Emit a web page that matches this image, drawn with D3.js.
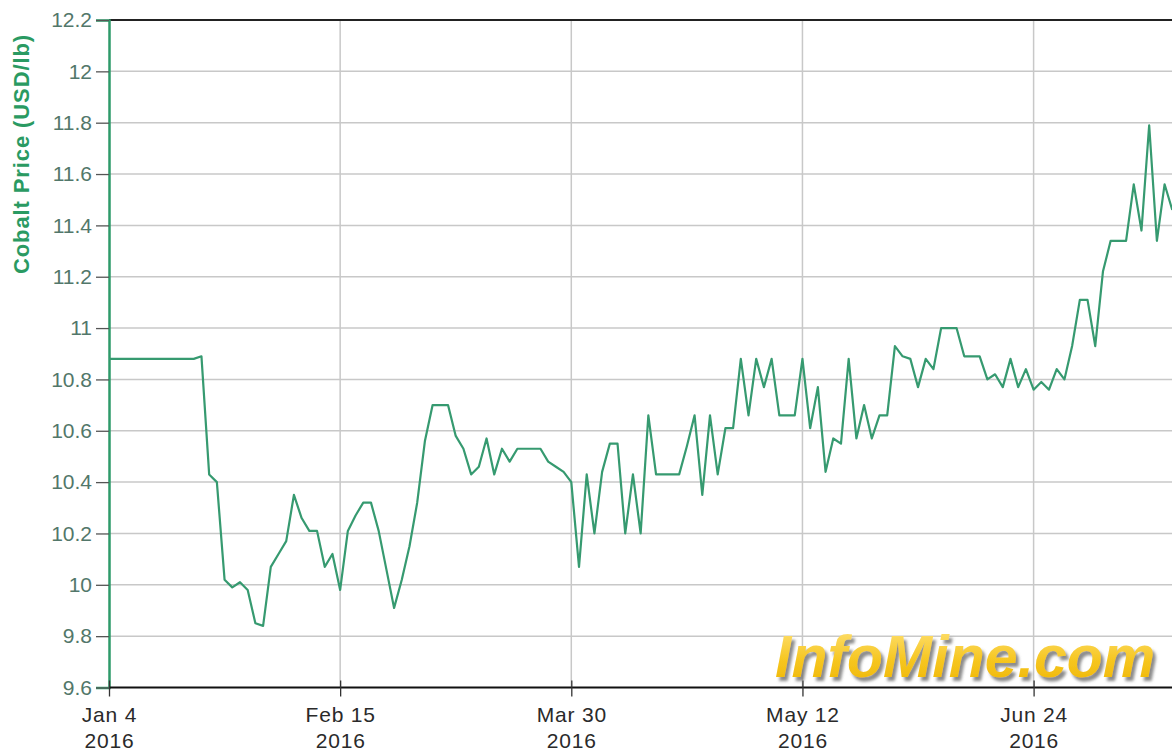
<!DOCTYPE html>
<html lang="en">
<head>
<meta charset="utf-8">
<title>Cobalt Price</title>
<script src="https://d3js.org/d3.v7.min.js"></script>
<style>
body { margin: 0; background: #fff; }
svg { display: block; font-family: "Liberation Sans", Arial, sans-serif; }
.grid line { stroke: #c8c8c8; stroke-width: 1.5; }
</style>
</head>
<body>
<div id="chart"></div>
<script>
// cobalt price (USD/lb), one value per trading day from Jan 4 2016
var prices = [
  10.88, 10.88, 10.88, 10.88, 10.88, 10.88, 10.88, 10.88, 10.88, 10.88,
  10.88, 10.88, 10.89, 10.43, 10.40, 10.02, 9.99, 10.01, 9.98, 9.85,
  9.84, 10.07, 10.12, 10.17, 10.35, 10.26, 10.21, 10.21, 10.07, 10.12,
  9.98, 10.21, 10.27, 10.32, 10.32, 10.21, 10.06, 9.91, 10.02, 10.15,
  10.32, 10.56, 10.70, 10.70, 10.70, 10.58, 10.53, 10.43, 10.46, 10.57,
  10.43, 10.53, 10.48, 10.53, 10.53, 10.53, 10.53, 10.48, 10.46, 10.44,
  10.40, 10.07, 10.43, 10.20, 10.44, 10.55, 10.55, 10.20, 10.43, 10.20,
  10.66, 10.43, 10.43, 10.43, 10.43, 10.54, 10.66, 10.35, 10.66, 10.43,
  10.61, 10.61, 10.88, 10.66, 10.88, 10.77, 10.88, 10.66, 10.66, 10.66,
  10.88, 10.61, 10.77, 10.44, 10.57, 10.55, 10.88, 10.57, 10.70, 10.57,
  10.66, 10.66, 10.93, 10.89, 10.88, 10.77, 10.88, 10.84, 11.00, 11.00,
  11.00, 10.89, 10.89, 10.89, 10.80, 10.82, 10.77, 10.88, 10.77, 10.84,
  10.76, 10.79, 10.76, 10.84, 10.80, 10.93, 11.11, 11.11, 10.93, 11.22,
  11.34, 11.34, 11.34, 11.56, 11.38, 11.79, 11.34, 11.56, 11.46
];

// x ticks sit on trading-day indices
var tickIndex = [0, 30, 60, 90, 120];
var tickDay = ["Jan 4", "Feb 15", "Mar 30", "May 12", "Jun 24"];
var tickYear = ["2016", "2016", "2016", "2016", "2016"];

var yTicks = [9.6, 9.8, 10, 10.2, 10.4, 10.6, 10.8, 11, 11.2, 11.4, 11.6, 11.8, 12, 12.2];

var W = 1172, H = 755;
var margin = {top: 20, left: 109, bottom: 67};

var svg = d3.select("#chart").append("svg")
  .attr("width", W)
  .attr("height", H);

var x = d3.scaleLinear()
  .domain([0, 138])
  .range([margin.left, margin.left + 138 * 7.705]);

var y = d3.scaleLinear()
  .domain([9.6, 12.2])
  .range([H - margin.bottom - 0.5, margin.top]);

// horizontal grid
svg.append("g").attr("class", "grid")
  .selectAll("line")
  .data(yTicks.slice(1, -1))
  .enter().append("line")
    .attr("x1", margin.left).attr("x2", W)
    .attr("y1", function(d) { return y(d); })
    .attr("y2", function(d) { return y(d); });

// vertical grid
svg.append("g").attr("class", "grid")
  .selectAll("line")
  .data(tickIndex.slice(1))
  .enter().append("line")
    .attr("x1", function(d) { return x(d); })
    .attr("x2", function(d) { return x(d); })
    .attr("y1", y(12.2)).attr("y2", y(9.6));

// top border
svg.append("line")
  .attr("x1", margin.left).attr("x2", W)
  .attr("y1", y(12.2)).attr("y2", y(12.2))
  .attr("stroke", "#222").attr("stroke-width", 2);

// y axis
var yAxis = svg.append("g")
  .attr("transform", "translate(" + margin.left + ",0)")
  .call(d3.axisLeft(y).tickValues(yTicks).tickSize(13).tickPadding(4)
    .tickFormat(function(d) { return d3.format("")(+d.toFixed(1)); }));
yAxis.select(".domain").attr("stroke", "#2e9a6a").attr("stroke-width", 2.5);
yAxis.selectAll(".tick line").attr("stroke", "#555").attr("stroke-width", 1.3);
yAxis.selectAll(".tick text")
  .attr("fill", "#52776a")
  .style("font-size", "21px")
  .style("font-family", "'Liberation Sans', Arial, sans-serif");

// x axis
var xAxis = svg.append("g")
  .attr("transform", "translate(0," + y(9.6) + ")")
  .call(d3.axisBottom(x).tickValues(tickIndex).tickSize(9).tickFormat(""));
xAxis.select(".domain").attr("stroke", "#111").attr("stroke-width", 2).attr("d", "M" + margin.left + ",0H" + W);
xAxis.selectAll(".tick line").attr("stroke", "#333").attr("stroke-width", 1.3).attr("y1", -7);

var lbl = xAxis.selectAll(".tick").append("text")
  .attr("fill", "#2a2a2a")
  .attr("text-anchor", "middle")
  .style("font-size", "21px")
  .style("letter-spacing", "0.8px");
lbl.append("tspan").attr("x", 0).attr("y", 34)
  .text(function(d, i) { return tickDay[i]; });
lbl.append("tspan").attr("x", 0).attr("y", 60)
  .text(function(d, i) { return tickYear[i]; });

// price line
var line = d3.line()
  .x(function(d, i) { return x(i); })
  .y(function(d) { return y(d); });

svg.append("path")
  .datum(prices)
  .attr("d", line)
  .attr("fill", "none")
  .attr("stroke", "#369a70")
  .attr("stroke-width", 2.2)
  .attr("stroke-linejoin", "round");

// y axis title
svg.append("text")
  .attr("transform", "translate(29," + 154 + ") rotate(-90)")
  .attr("text-anchor", "middle")
  .attr("fill", "#2a9a62")
  .style("font-size", "22px")
  .style("font-weight", "bold")
  .style("letter-spacing", "0.9px")
  .text("Cobalt Price (USD/lb)");

// watermark
var defs = svg.append("defs");
var grad = defs.append("linearGradient").attr("id", "gold")
  .attr("x1", 0).attr("y1", 0).attr("x2", 0).attr("y2", 1);
grad.append("stop").attr("offset", "0%").attr("stop-color", "#ffe27a");
grad.append("stop").attr("offset", "55%").attr("stop-color", "#f6c620");
grad.append("stop").attr("offset", "100%").attr("stop-color", "#eeb400");
defs.append("filter").attr("id", "sh")
  .attr("x", "-5%").attr("y", "-20%").attr("width", "115%").attr("height", "150%")
  .append("feDropShadow")
    .attr("dx", 3).attr("dy", 4).attr("stdDeviation", 1.5)
    .attr("flood-color", "#777").attr("flood-opacity", 0.85);

svg.append("text").attr("x", 775).attr("y", 677)
  .style("font-size", "59px").style("font-weight", "bold").style("font-style", "italic")
  .attr("fill", "url(#gold)")
  .attr("filter", "url(#sh)")
  .text("InfoMine.com");
</script>
</body>
</html>
